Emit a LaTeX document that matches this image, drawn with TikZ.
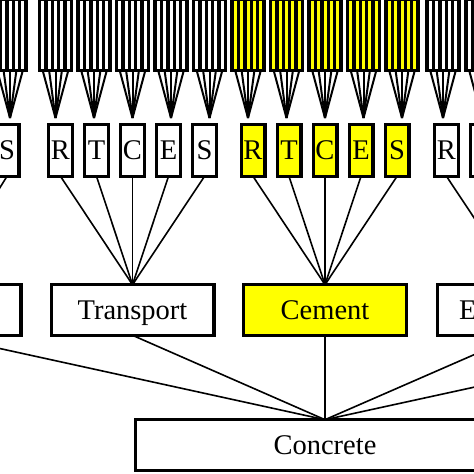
\documentclass[tikz,border=0pt]{standalone}
\usepackage{fontspec}
\setmainfont{Liberation Serif}
\definecolor{hlyellow}{RGB}{255,255,0}
\begin{document}
\begin{tikzpicture}[x=1pt,y=-1pt,
  cell/.style={draw, line width=3.4pt, minimum width=6.4pt, minimum height=71.5pt, inner sep=0pt, outer sep=0pt},
  letterbox/.style={draw, line width=3.4pt, minimum width=23.6pt, minimum height=51.6pt, inner sep=0pt, outer sep=0pt, font=\fontsize{28.5}{30}\selectfont, text height=18.8pt, text depth=0pt},
  groupbox/.style={draw, line width=3.4pt, minimum width=162.6pt, minimum height=50.6pt, inner sep=0pt, outer sep=0pt, font=\fontsize{28.5}{30}\selectfont, text height=18.8pt, text depth=0pt},
  fan/.style={line width=2pt},
  link/.style={line width=1.6pt}]
\useasboundingbox (0,0) rectangle (474,474);
\clip (0,0) rectangle (474,474);
% striped boxes with fans
\foreach \n/\x/\c in {lS/10/white, tR/55.5/white, tT/94/white, tC/132.5/white, tE/171/white, tS/209.5/white, cR/248/hlyellow, cT/286.5/hlyellow, cC/325/hlyellow, cE/363.5/hlyellow, cS/402/hlyellow, eR/443/white, eT/482/white} {
  \foreach \i in {0,...,4} {
    \node[cell, fill=\c] (s\n\i) at ({\x+6.4*(\i-2)}, 34.75) {};
  }
  \coordinate (tip\n) at (\x, 118);
  \foreach \i in {0,...,4} {
    \draw[fan] (s\n\i.south) -- (tip\n);
  }
}
% letter boxes
\node[letterbox] (lS) at (7,150.5) {S};
\node[letterbox] (tR) at (60.5,150.5) {R};
\node[letterbox] (tT) at (96.5,150.5) {T};
\node[letterbox] (tC) at (132.5,150.5) {C};
\node[letterbox] (tE) at (168.5,150.5) {E};
\node[letterbox] (tS) at (204.5,150.5) {S};
\node[letterbox, fill=hlyellow] (cR) at (253,150.5) {R};
\node[letterbox, fill=hlyellow] (cT) at (289,150.5) {T};
\node[letterbox, fill=hlyellow] (cC) at (325,150.5) {C};
\node[letterbox, fill=hlyellow] (cE) at (361,150.5) {E};
\node[letterbox, fill=hlyellow] (cS) at (397,150.5) {S};
\node[letterbox] (eR) at (446.5,150.5) {R};
\node[letterbox] (eT) at (482.5,150.5) {T};
% group boxes
\node[groupbox] (gL) at (-60.5,310) {};
\node[groupbox] (gT) at (132.5,310) {Transport};
\node[groupbox, fill=hlyellow] (gC) at (325,310) {Cement};
\node[groupbox] (gE) at (518.5,310) {Electricity};
\coordinate (gS) at (711,335.5);
% concrete
\node[groupbox, minimum width=378.6pt] (conc) at (325,445) {Concrete};
% links letters -> groups
\draw[link] (lS.south) -- (gL.north);
\foreach \l in {R,T,C,E,S} {
  \draw[link] (t\l.south) -- (gT.north);
  \draw[link] (c\l.south) -- (gC.north);
}
\draw[link] (eR.south) -- (gE.north);
\draw[link] (eT.south) -- (gE.north);
% links groups -> concrete
\draw[link] (gL.south) -- (conc.north);
\draw[link] (gT.south) -- (conc.north);
\draw[link] (gC.south) -- (conc.north);
\draw[link] (gE.south) -- (conc.north);
\draw[link] (gS) -- (conc.north);
\end{tikzpicture}
\end{document}
